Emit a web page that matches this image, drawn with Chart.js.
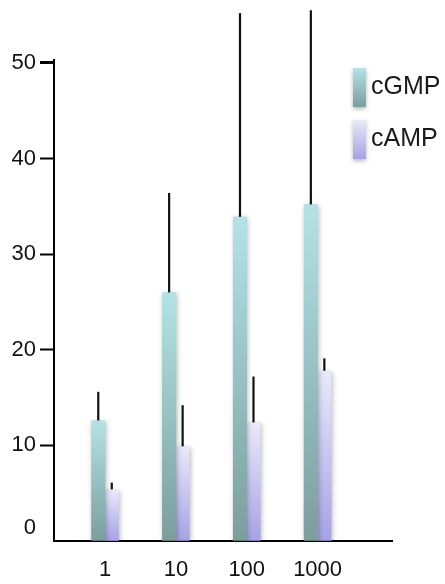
<!DOCTYPE html>
<html>
<head>
<meta charset="utf-8">
<script src="https://cdn.jsdelivr.net/npm/chart.js@4.4.1/dist/chart.umd.min.js"></script>
<style>
  body { margin: 0; background: #fff; }
  canvas { display: block; }
</style>
</head>
<body>
<canvas id="chart" width="445" height="584"></canvas>
<script>
const doses = ['1', '10', '100', '1000'];
const cgmp = [12.6, 26.0, 33.9, 35.2];
const cgmpErr = [3.0, 10.4, 21.3, 20.3];
const camp = [5.4, 9.9, 12.4, 17.8];
const campErr = [0.7, 4.3, 4.8, 1.3];
const yTicks = [0, 10, 20, 30, 40, 50];

const tickFont = { family: "'Liberation Sans Narrow', 'Liberation Sans', Arial", size: 22 };

const palette = {
  cGMP: ['#b3e3e6', '#7b9e9d'],
  cAMP: ['#e9e9fa', '#a6a2e6']
};

function barGradient(c, stops) {
  if (c.type !== 'data' || !c.chart.chartArea) return stops[1];
  const y = c.chart.scales.y;
  const top = y.getPixelForValue(c.parsed.y);
  const bottom = y.getPixelForValue(0);
  const g = c.chart.ctx.createLinearGradient(0, top, 0, bottom);
  g.addColorStop(0, stops[0]);
  g.addColorStop(1, stops[1]);
  return g;
}

const errorBars = {
  id: 'errorBars',
  beforeDatasetsDraw(chart) {
    const ctx = chart.ctx;
    ctx.save();
    ctx.shadowColor = 'rgba(0,0,0,0.28)';
    ctx.shadowBlur = 5;
    ctx.shadowOffsetX = 1;
    ctx.shadowOffsetY = 2;
  },
  afterDatasetsDraw(chart) {
    const ctx = chart.ctx;
    ctx.restore();
    const errs = [cgmpErr, campErr];
    const y = chart.scales.y;
    ctx.save();
    ctx.strokeStyle = '#111';
    ctx.lineWidth = 2.2;
    chart.data.datasets.forEach((ds, di) => {
      chart.getDatasetMeta(di).data.forEach((bar, i) => {
        const v = ds.data[i].y;
        ctx.beginPath();
        ctx.moveTo(bar.x, bar.y);
        ctx.lineTo(bar.x, y.getPixelForValue(v + errs[di][i]));
        ctx.stroke();
      });
    });
    ctx.restore();
  }
};

const sideLegend = {
  id: 'sideLegend',
  afterDraw(chart) {
    const ctx = chart.ctx;
    const x = 353, w = 13, h = 39;
    const rows = [68, 120];
    ctx.save();
    chart.data.datasets.forEach((ds, i) => {
      const top = rows[i];
      const stops = palette[ds.label];
      const g = ctx.createLinearGradient(0, top, 0, top + h);
      g.addColorStop(0, stops[0]);
      g.addColorStop(1, stops[1]);
      ctx.shadowColor = 'rgba(0,0,0,0.28)';
      ctx.shadowBlur = 4;
      ctx.shadowOffsetY = 2;
      ctx.fillStyle = g;
      ctx.fillRect(x, top, w, h);
      ctx.shadowColor = 'transparent';
      ctx.fillStyle = '#1a1a1a';
      ctx.font = "25px 'Liberation Sans', Arial";
      ctx.textBaseline = 'middle';
      ctx.fillText(ds.label, x + 18, top + 19);
    });
    ctx.restore();
  }
};

new Chart(document.getElementById('chart'), {
  type: 'bar',
  data: {
    datasets: [
      {
        label: 'cGMP',
        data: cgmp.map((v, i) => ({ x: i + 1, y: v })),
        backgroundColor: c => barGradient(c, palette.cGMP)
      },
      {
        label: 'cAMP',
        data: camp.map((v, i) => ({ x: i + 1, y: v })),
        backgroundColor: c => barGradient(c, palette.cAMP)
      }
    ]
  },
  options: {
    responsive: false,
    animation: false,
    barThickness: 13.5,
    layout: { padding: { top: 60, right: 53, bottom: 0, left: 0 } },
    plugins: {
      legend: { display: false },
      tooltip: { enabled: false }
    },
    scales: {
      x: {
        type: 'linear',
        offset: false,
        min: 0.28,
        max: 5.05,
        afterFit: s => { s.height = 43; },
        afterBuildTicks: s => { s.ticks = doses.map((d, i) => ({ value: i + 1 })); },
        ticks: {
          callback: v => doses[v - 1],
          autoSkip: false,
          maxRotation: 0,
          padding: 16,
          font: tickFont,
          color: '#111'
        },
        grid: { display: true, drawOnChartArea: false, drawTicks: false },
        border: { color: '#000', width: 2 }
      },
      y: {
        min: 0,
        max: 50.3,
        afterFit: s => { s.width = 54; },
        afterBuildTicks: s => { s.ticks = yTicks.map(v => ({ value: v })); },
        ticks: {
          callback: v => v === 0 ? ['0', ''] : String(v),
          padding: 4,
          font: tickFont,
          color: '#111'
        },
        grid: {
          drawOnChartArea: false,
          tickLength: 14,
          tickColor: c => c.tick && c.tick.value === 0 ? 'rgba(0,0,0,0)' : '#000',
          tickWidth: c => c.tick && c.tick.value === 50 ? 3 : 2
        },
        border: { color: '#000', width: 2 }
      }
    }
  },
  plugins: [errorBars, sideLegend]
});
</script>
</body>
</html>
